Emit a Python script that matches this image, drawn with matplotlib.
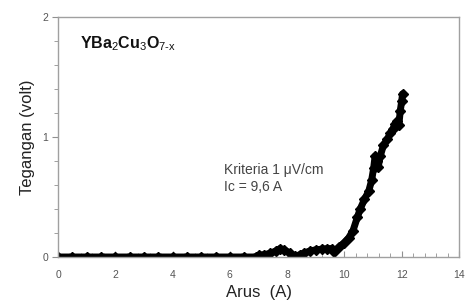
import matplotlib
matplotlib.use("Agg")
import matplotlib.pyplot as plt
from matplotlib.ticker import MultipleLocator

plt.rcParams['font.family'] = ['Liberation Sans', 'DejaVu Sans']
plt.rcParams['mathtext.fontset'] = 'custom'
plt.rcParams['mathtext.rm'] = 'Liberation Sans'
plt.rcParams['mathtext.it'] = 'Liberation Sans'

arus = [0.0, 0.5, 1.0, 1.5, 2.0, 2.5, 3.0, 3.5, 4.0, 4.5, 5.0, 5.5, 6.0, 6.5, 6.9,
        7.0, 7.2, 7.4, 7.6, 7.75, 7.9, 8.1, 8.28, 8.45, 8.6, 8.8, 9.0, 9.2, 9.4,
        9.55, 9.65, 9.8, 10.0, 10.15, 10.3, 10.45, 10.55, 10.7, 10.85, 10.95,
        11.02, 11.07, 11.12, 11.18, 11.25, 11.36, 11.5, 11.6, 11.7, 11.77, 11.85,
        11.9, 11.95, 12.0, 12.03]
tegangan = [0.0, 0.0, 0.0, 0.0, 0.0, 0.0, 0.0, 0.0, 0.0, 0.0, 0.0, 0.0, 0.0, 0.0, 0.0,
            0.015, 0.02, 0.03, 0.05, 0.07, 0.06, 0.03, 0.005, 0.02, 0.035, 0.05, 0.06,
            0.065, 0.07, 0.07, 0.045, 0.08, 0.12, 0.16, 0.22, 0.33, 0.4, 0.48, 0.55,
            0.64, 0.74, 0.84, 0.8, 0.75, 0.84, 0.93, 0.98, 1.03, 1.07, 1.11, 1.13,
            1.1, 1.22, 1.3, 1.36]

fig = plt.figure(figsize=(4.65, 3.0), dpi=100)
ax = fig.add_axes([58/465, 43/300, 401/465, 240/300])

ax.plot(arus, tegangan, color='black', lw=5.0, marker='D', ms=5.5,
        solid_joinstyle='round', solid_capstyle='round')

ax.set_xlim(0, 14)
ax.set_ylim(0, 2)
ax.xaxis.set_major_locator(MultipleLocator(2))
ax.xaxis.set_minor_locator(MultipleLocator(0.4))
ax.yaxis.set_major_locator(MultipleLocator(1))
ax.yaxis.set_minor_locator(MultipleLocator(0.2))

for s in ax.spines.values():
    s.set_color('#a0a0a0')
    s.set_linewidth(1.0)

ax.tick_params(axis='x', which='both', direction='in', colors='#909090',
               labelcolor='#555555', labelsize=7.5, pad=9)
ax.tick_params(axis='x', which='major', length=4)
ax.tick_params(axis='x', which='minor', length=3)
ax.tick_params(axis='y', which='both', direction='out', colors='#909090',
               labelcolor='#555555', labelsize=7.5, pad=3)
ax.tick_params(axis='y', which='major', length=4)
ax.tick_params(axis='y', which='minor', length=3)

ax.set_xlabel('Arus  (A)', fontsize=12, color='#222222', labelpad=4)
ax.set_ylabel('Tegangan (volt)', fontsize=12, color='#222222', labelpad=5)

ax.text(0.055, 0.89, r'YBa$_\mathrm{2}$Cu$_\mathrm{3}$O$_{\mathrm{7\text{-}x}}$',
        transform=ax.transAxes, fontsize=11.5, fontweight='bold',
        color='#111111', va='center')
ax.text(0.415, 0.327, 'Kriteria 1 \u03bcV/cm\nIc = 9,6 A', transform=ax.transAxes,
        fontsize=10, color='#444444', va='center', linespacing=1.3)

fig.savefig('out.png', dpi=100)
